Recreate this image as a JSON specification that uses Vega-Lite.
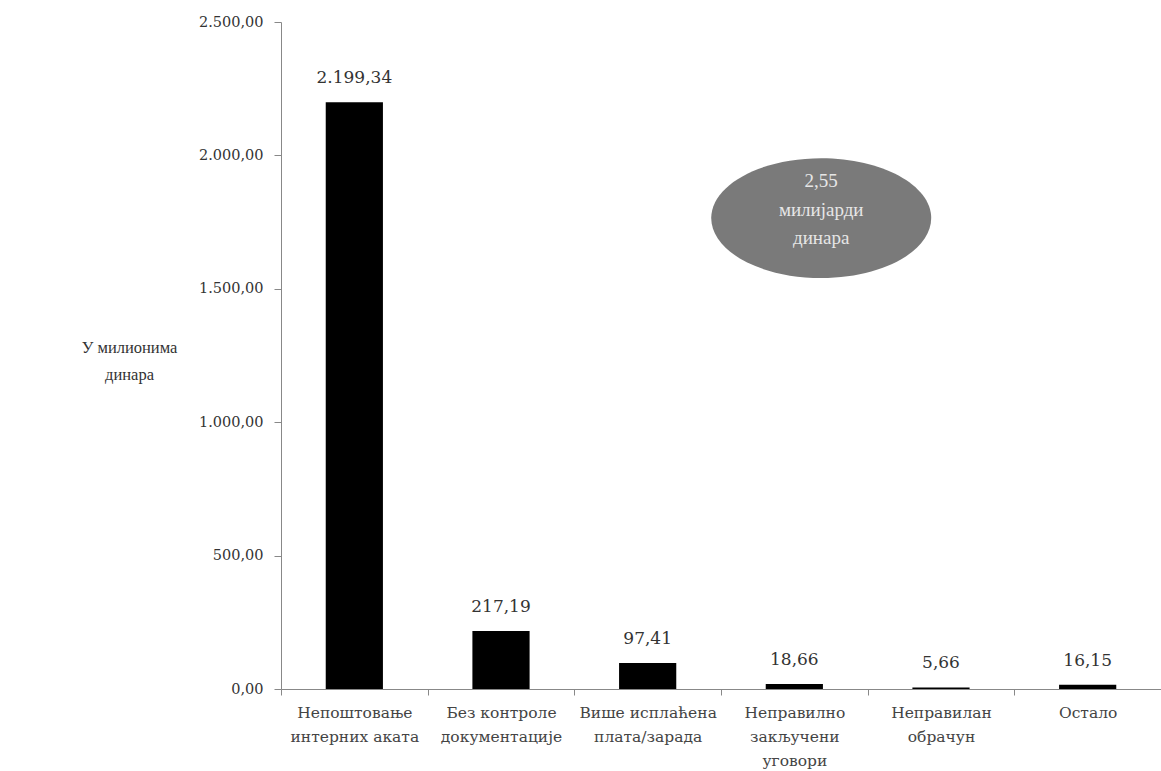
{
  "$schema": "https://vega.github.io/schema/vega-lite/v6.json",
  "autosize": "none",
  "width": 880,
  "height": 667,
  "padding": {"left": 281, "top": 22, "right": 0, "bottom": 82},
  "background": "white",
  "config": {
    "locale": {"number": {"decimal": ",", "thousands": ".", "grouping": [3], "currency": ["", ""]}},
    "view": {"stroke": null},
    "font": "DejaVu Serif"
  },
  "datasets": {
    "bars": [
      {"kategorija": "Непоштовање|интерних аката", "iznos": 2199.34},
      {"kategorija": "Без контроле|документације", "iznos": 217.19},
      {"kategorija": "Више исплаћена|плата/зарада", "iznos": 97.41},
      {"kategorija": "Неправилно|закључени|уговори", "iznos": 18.66},
      {"kategorija": "Неправилан|обрачун", "iznos": 5.66},
      {"kategorija": "Остало", "iznos": 16.15}
    ],
    "note": [
      {"kategorija": "Неправилно|закључени|уговори", "iznos": 1765, "tekst": "2,55\nмилијарди\nдинара"}
    ]
  },
  "layer": [
    {
      "data": {"name": "bars"},
      "mark": {"type": "bar", "color": "#000000"},
      "encoding": {
        "x": {
          "field": "kategorija", "type": "nominal", "sort": null,
          "scale": {"paddingInner": 0.61, "paddingOuter": 0.305},
          "axis": {
            "title": null,
            "labelAngle": 0,
            "labelExpr": "isString(datum.value) ? split(datum.value, '|') : ''",
            "labelFont": "DejaVu Serif",
            "labelFontSize": 15.5,
            "labelColor": "#444444",
            "labelLineHeight": 24,
            "labelPadding": 10,
            "tickOffset": -73.35,
            "labelOffset": 73.35,
            "tickSize": 6,
            "tickColor": "#888888",
            "domainColor": "#888888"
          }
        },
        "y": {
          "field": "iznos", "type": "quantitative",
          "scale": {"domain": [0, 2500], "nice": false},
          "axis": {
            "values": [0, 500, 1000, 1500, 2000, 2500],
            "format": ",.2f",
            "grid": false,
            "labelFont": "DejaVu Serif",
            "labelFontSize": 14.5,
            "labelColor": "#333333",
            "labelPadding": 11,
            "tickSize": 7,
            "tickColor": "#888888",
            "domainColor": "#888888",
            "title": ["У милионима", "динара"],
            "titleAngle": 0,
            "titleAlign": "center",
            "titleBaseline": "middle",
            "titleX": -152,
            "titleY": 325,
            "titleFont": "Liberation Serif",
            "titleFontSize": 16.5,
            "titleFontWeight": "normal",
            "titleColor": "#333333",
            "titleLineHeight": 27
          }
        }
      }
    },
    {
      "data": {"name": "bars"},
      "mark": {"type": "text", "baseline": "middle", "dy": -24, "font": "DejaVu Serif", "fontSize": 17, "color": "#333333"},
      "encoding": {
        "x": {"field": "kategorija", "type": "nominal", "sort": null},
        "y": {"field": "iznos", "type": "quantitative"},
        "text": {"field": "iznos", "type": "quantitative", "format": ",.2f"}
      }
    },
    {
      "data": {"name": "note"},
      "mark": {"type": "point", "shape": "M -1 0 A 1 0.545 0 1 0 1 0 A 1 0.545 0 1 0 -1 0 Z", "size": 48400, "filled": true, "fill": "#7a7a7a", "opacity": 1, "strokeWidth": 0},
      "encoding": {
        "x": {"field": "kategorija", "type": "nominal", "sort": null, "bandPosition": 0.97},
        "y": {"field": "iznos", "type": "quantitative"}
      }
    },
    {
      "data": {"name": "note"},
      "mark": {"type": "text", "lineBreak": "\n", "lineHeight": 28.5, "baseline": "middle", "align": "center", "dy": -37, "font": "Liberation Serif", "fontSize": 19, "color": "#e6e6e6"},
      "encoding": {
        "x": {"field": "kategorija", "type": "nominal", "sort": null, "bandPosition": 0.97},
        "y": {"field": "iznos", "type": "quantitative"},
        "text": {"field": "tekst"}
      }
    }
  ]
}
